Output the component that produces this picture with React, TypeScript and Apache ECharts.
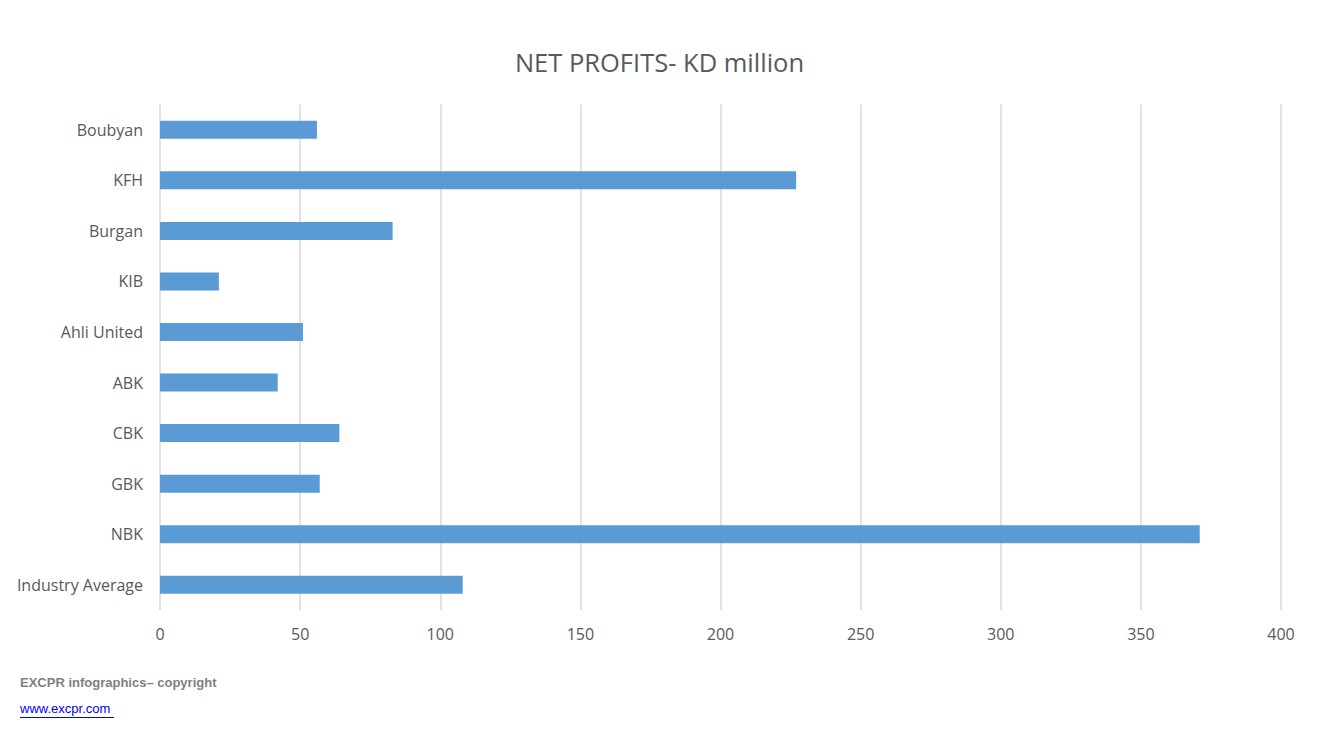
import React, { useEffect, useRef } from "react";
import * as echarts from "echarts";

const categories = ["Industry Average", "NBK", "GBK", "CBK", "ABK", "Ahli United", "KIB", "Burgan", "KFH", "Boubyan"];
const profits = [108, 371, 57, 64, 42, 51, 21, 83, 227, 56];
const xTicks = [0, 50, 100, 150, 200, 250, 300, 350, 400];

export default function App() {
  const ref = useRef<HTMLDivElement>(null);
  useEffect(() => {
    if (!ref.current) return;
    const chart = echarts.init(ref.current, null, { renderer: "svg" });
    chart.setOption({
      animation: false,
      backgroundColor: "#ffffff",
      title: {
        text: "NET PROFITS- KD million",
        left: "center",
        top: 44,
        textStyle: { fontFamily: "Open Sans", fontSize: 25.5, fontWeight: "normal", color: "#595959" },
      },
      grid: { left: 160, right: 38, top: 104.5, bottom: 126, containLabel: false },
      xAxis: {
        type: "value",
        min: xTicks[0],
        max: xTicks[xTicks.length - 1],
        interval: 50,
        axisLine: { show: false },
        axisTick: { show: false },
        axisLabel: { color: "#595959", fontSize: 16, fontFamily: "Open Sans", margin: 16 },
        splitLine: { show: true, lineStyle: { color: "#d9d9d9", width: 1.5 } },
      },
      yAxis: {
        type: "category",
        data: categories,
        axisLine: { show: false },
        axisTick: { show: false },
        axisLabel: { color: "#595959", fontSize: 16, fontFamily: "Open Sans", margin: 17 },
      },
      series: [
        {
          type: "bar",
          data: profits,
          barWidth: 18,
          itemStyle: { color: "#5b9bd5" },
        },
      ],
      graphic: [
        {
          type: "text",
          left: 20,
          top: 676,
          style: { text: "EXCPR infographics– copyright", fontFamily: "Liberation Sans Narrow, Liberation Sans", fontSize: 13, fontWeight: "bold", fill: "#7f7f7f" },
        },
        {
          type: "text",
          left: 20,
          top: 702,
          style: { text: "www.excpr.com", fontFamily: "Liberation Sans Narrow, Liberation Sans", fontSize: 13, fill: "#0000ff" },
        },
        {
          type: "line",
          shape: { x1: 20, y1: 717.5, x2: 114, y2: 717.5 },
          style: { stroke: "#0000ff", lineWidth: 1 },
        },
      ],
    });
    return () => chart.dispose();
  }, []);
  return <div ref={ref} style={{ position: "fixed", left: 0, top: 0, width: 1319, height: 736 }} />;
}
